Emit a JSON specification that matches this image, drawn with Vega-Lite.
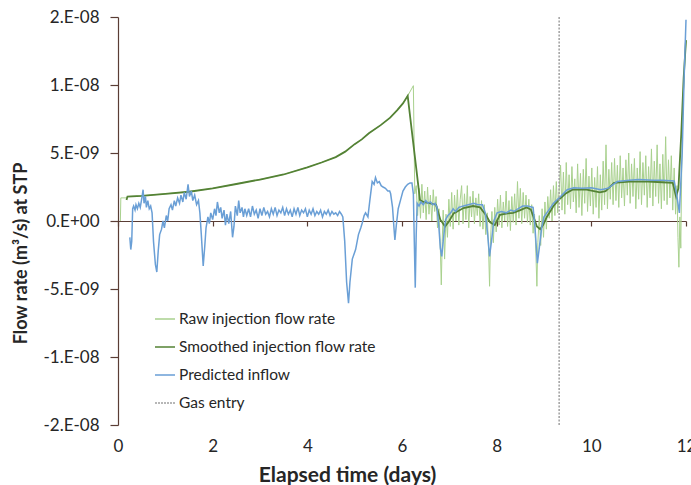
{
  "$schema": "https://vega.github.io/schema/vega-lite/v6.json",
  "width": 568,
  "height": 408,
  "autosize": {"type": "none"},
  "padding": {"left": 118, "top": 17, "right": 5, "bottom": 60},
  "background": "white",
  "config": {"view": {"stroke": null}, "font": "Lato", "axis": {"grid": false}},
  "resolve": {"axis": {"x": "independent", "y": "independent"}},
  "layer": [
    {
      "data": {"values": [
        {"t":0.05,"v":0},{"t":0.06,"v":1.7e-9},{"t":0.18,"v":1.7e-9},{"t":0.2,"v":1.8e-9},{"t":0.5,"v":1.85e-9},{"t":1.0,"v":2.0e-9},{"t":1.5,"v":2.15e-9},{"t":2.0,"v":2.4e-9},{"t":2.5,"v":2.72e-9},{"t":3.0,"v":3.05e-9},{"t":3.5,"v":3.42e-9},{"t":4.0,"v":3.95e-9},{"t":4.3,"v":4.3e-9},{"t":4.6,"v":4.7e-9},{"t":4.8,"v":5.1e-9},{"t":5.0,"v":5.65e-9},{"t":5.15,"v":6.0e-9},{"t":5.3,"v":6.45e-9},{"t":5.55,"v":7.05e-9},{"t":5.75,"v":7.6e-9},{"t":5.9,"v":8.15e-9},{"t":6.02,"v":8.65e-9},{"t":6.12,"v":9.2e-9},{"t":6.24,"v":9.95e-9},{"t":6.27,"v":2.0e-9},
        {"t":6.30,"v":2.6e-9},{"t":6.33,"v":0.4e-9},{"t":6.36,"v":2.4e-9},{"t":6.39,"v":0.2e-9},{"t":6.42,"v":2.7e-9},{"t":6.45,"v":0.6e-9},{"t":6.48,"v":2.2e-9},{"t":6.51,"v":0.1e-9},{"t":6.54,"v":2.5e-9},{"t":6.57,"v":0.5e-9},{"t":6.60,"v":1.9e-9},{"t":6.63,"v":0.0},{"t":6.66,"v":2.3e-9},{"t":6.69,"v":0.7e-9},{"t":6.72,"v":1.8e-9},{"t":6.75,"v":-0.5e-9},{"t":6.78,"v":0.9e-9},{"t":6.81,"v":-2.0e-9},{"t":6.83,"v":-4.7e-9},{"t":6.85,"v":-1.5e-9},{"t":6.87,"v":0.8e-9},{"t":6.90,"v":-2.8e-9},{"t":6.93,"v":0.5e-9},{"t":6.96,"v":-1.2e-9},{"t":6.99,"v":1.6e-9},
        {"t":7.02,"v":-0.4e-9},{"t":7.05,"v":2.1e-9},{"t":7.08,"v":-0.6e-9},{"t":7.11,"v":1.9e-9},{"t":7.14,"v":0.0},{"t":7.17,"v":2.3e-9},{"t":7.20,"v":-0.3e-9},{"t":7.23,"v":1.6e-9},{"t":7.26,"v":2.6e-9},{"t":7.29,"v":-0.2e-9},{"t":7.32,"v":2.0e-9},{"t":7.35,"v":0.1e-9},{"t":7.38,"v":2.6e-9},{"t":7.41,"v":-0.5e-9},{"t":7.44,"v":1.8e-9},{"t":7.47,"v":0.3e-9},{"t":7.50,"v":2.2e-9},{"t":7.53,"v":-0.2e-9},{"t":7.56,"v":1.7e-9},{"t":7.59,"v":0.4e-9},{"t":7.62,"v":2.0e-9},{"t":7.65,"v":-0.4e-9},{"t":7.68,"v":1.5e-9},{"t":7.71,"v":-0.6e-9},{"t":7.74,"v":1.2e-9},{"t":7.77,"v":-1.0e-9},{"t":7.80,"v":0.6e-9},{"t":7.83,"v":-2.2e-9},{"t":7.85,"v":-4.8e-9},{"t":7.87,"v":-1.4e-9},{"t":7.90,"v":0.7e-9},{"t":7.93,"v":-1.6e-9},{"t":7.96,"v":1.0e-9},{"t":7.99,"v":-0.8e-9},
        {"t":8.02,"v":1.6e-9},{"t":8.05,"v":-0.3e-9},{"t":8.08,"v":1.9e-9},{"t":8.11,"v":-0.5e-9},{"t":8.14,"v":1.4e-9},{"t":8.17,"v":0.0},{"t":8.20,"v":2.2e-9},{"t":8.23,"v":-0.4e-9},{"t":8.26,"v":1.5e-9},{"t":8.29,"v":-0.7e-9},{"t":8.32,"v":1.8e-9},{"t":8.35,"v":-0.1e-9},{"t":8.38,"v":2.0e-9},{"t":8.41,"v":-0.3e-9},{"t":8.44,"v":2.9e-9},{"t":8.47,"v":0.2e-9},{"t":8.50,"v":2.4e-9},{"t":8.53,"v":-0.2e-9},{"t":8.56,"v":2.1e-9},{"t":8.59,"v":0.2e-9},{"t":8.62,"v":1.9e-9},{"t":8.65,"v":-0.1e-9},{"t":8.68,"v":1.6e-9},{"t":8.71,"v":-0.3e-9},{"t":8.74,"v":1.2e-9},{"t":8.77,"v":-0.9e-9},{"t":8.80,"v":0.5e-9},{"t":8.83,"v":-2.5e-9},{"t":8.85,"v":-4.8e-9},{"t":8.87,"v":-1.6e-9},{"t":8.90,"v":0.4e-9},{"t":8.93,"v":-1.8e-9},{"t":8.96,"v":0.9e-9},{"t":8.99,"v":-1.2e-9},
        {"t":9.02,"v":1.4e-9},{"t":9.05,"v":-0.6e-9},{"t":9.08,"v":1.8e-9},{"t":9.11,"v":0.2e-9},{"t":9.14,"v":2.3e-9},{"t":9.17,"v":0.0},{"t":9.20,"v":2.6e-9},{"t":9.23,"v":0.4e-9},{"t":9.26,"v":2.9e-9},{"t":9.29,"v":0.6e-9},{"t":9.32,"v":2.3e-9},{"t":9.35,"v":4.1e-9},{"t":9.38,"v":0.8e-9},{"t":9.41,"v":3.6e-9},{"t":9.44,"v":0.5e-9},{"t":9.47,"v":4.3e-9},{"t":9.50,"v":1.2e-9},{"t":9.53,"v":3.4e-9},{"t":9.56,"v":0.9e-9},{"t":9.59,"v":4.0e-9},{"t":9.62,"v":1.4e-9},{"t":9.65,"v":3.1e-9},{"t":9.68,"v":0.6e-9},{"t":9.71,"v":4.2e-9},{"t":9.74,"v":1.0e-9},{"t":9.77,"v":3.5e-9},{"t":9.80,"v":0.4e-9},{"t":9.83,"v":3.8e-9},{"t":9.86,"v":1.3e-9},{"t":9.89,"v":4.6e-9},{"t":9.92,"v":0.7e-9},{"t":9.95,"v":3.3e-9},{"t":9.98,"v":1.1e-9},
        {"t":10.01,"v":3.9e-9},{"t":10.04,"v":0.5e-9},{"t":10.07,"v":3.2e-9},{"t":10.10,"v":1.0e-9},{"t":10.13,"v":4.0e-9},{"t":10.16,"v":0.2e-9},{"t":10.19,"v":3.4e-9},{"t":10.22,"v":0.8e-9},{"t":10.25,"v":4.4e-9},{"t":10.28,"v":1.2e-9},{"t":10.31,"v":5.6e-9},{"t":10.34,"v":0.9e-9},{"t":10.37,"v":3.8e-9},{"t":10.40,"v":1.6e-9},{"t":10.43,"v":4.3e-9},{"t":10.46,"v":1.2e-9},{"t":10.49,"v":4.6e-9},{"t":10.52,"v":1.5e-9},{"t":10.55,"v":4.1e-9},{"t":10.58,"v":1.0e-9},{"t":10.61,"v":4.8e-9},{"t":10.64,"v":1.7e-9},{"t":10.67,"v":3.9e-9},{"t":10.70,"v":1.1e-9},{"t":10.73,"v":4.5e-9},{"t":10.76,"v":1.9e-9},{"t":10.79,"v":5.0e-9},{"t":10.82,"v":1.3e-9},{"t":10.85,"v":4.2e-9},{"t":10.88,"v":1.8e-9},{"t":10.91,"v":4.6e-9},{"t":10.94,"v":0.9e-9},{"t":10.97,"v":3.9e-9},
        {"t":11.00,"v":1.6e-9},{"t":11.03,"v":5.1e-9},{"t":11.06,"v":1.2e-9},{"t":11.09,"v":4.3e-9},{"t":11.12,"v":1.9e-9},{"t":11.15,"v":4.8e-9},{"t":11.18,"v":1.0e-9},{"t":11.21,"v":4.0e-9},{"t":11.24,"v":1.7e-9},{"t":11.27,"v":5.3e-9},{"t":11.30,"v":1.1e-9},{"t":11.33,"v":4.4e-9},{"t":11.36,"v":1.8e-9},{"t":11.39,"v":5.6e-9},{"t":11.42,"v":1.3e-9},{"t":11.45,"v":4.2e-9},{"t":11.48,"v":0.9e-9},{"t":11.51,"v":4.9e-9},{"t":11.54,"v":1.5e-9},{"t":11.57,"v":6.2e-9},{"t":11.60,"v":1.2e-9},{"t":11.63,"v":4.5e-9},{"t":11.66,"v":1.7e-9},{"t":11.69,"v":4.8e-9},{"t":11.72,"v":0.8e-9},{"t":11.75,"v":3.9e-9},{"t":11.78,"v":0.5e-9},{"t":11.81,"v":2.6e-9},{"t":11.83,"v":-1.2e-9},{"t":11.85,"v":-3.4e-9},{"t":11.87,"v":0.3e-9},{"t":11.89,"v":-2.0e-9},{"t":11.91,"v":4.0e-9},{"t":11.94,"v":9.0e-9},{"t":11.97,"v":11.5e-9},{"t":12.0,"v":13.3e-9}
      ]},
      "mark": {"type": "line", "strokeWidth": 1},
      "encoding": {
        "x": {"field": "t", "type": "quantitative", "scale": {"domain": [0, 12], "nice": false},
          "axis": {"orient": "bottom", "values": [0,2,4,6,8,10,12], "domain": false, "ticks": false, "labelPadding": 13, "labelFontSize": 17, "labelColor": "#262626", "labelFont": "Lato", "labelFlush": false,
            "title": "Elapsed time (days)", "titleFont": "Lato", "titleFontSize": 21, "titleFontWeight": "bold", "titleColor": "#262626", "titleX": 229, "titleY": 50, "titleBaseline": "middle", "titleAlign": "center"}},
        "y": {"field": "v", "type": "quantitative", "scale": {"domain": [-1.5e-8, 1.5e-8], "nice": false, "zero": false},
          "axis": {"orient": "left", "values": [-1.5e-8,-1e-8,-5e-9,0,5e-9,1e-8,1.5e-8],
            "labelExpr": "round(datum.value*1e9)==15?'2.E-08':round(datum.value*1e9)==10?'1.E-08':round(datum.value*1e9)==5?'5.E-09':round(datum.value*1e9)==0?'0.E+00':round(datum.value*1e9)==-5?'-5.E-09':round(datum.value*1e9)==-10?'-1.E-08':'-2.E-08'",
            "domainColor": "#5a3d35", "domainWidth": 1.2, "tickColor": "#5a3d35", "tickSize": 8, "tickWidth": 1.2, "labelPadding": 11, "labelFontSize": 17, "labelColor": "#262626", "labelFont": "Lato",
            "title": "Flow rate (m³/s) at STP", "titleFont": "Lato", "titleFontSize": 18, "titleFontWeight": "bold", "titleColor": "#262626", "titleX": -97, "titleY": 236, "titleBaseline": "middle", "titleAlign": "center", "titleAngle": 270}},
        "color": {"datum": "Raw injection flow rate",
          "scale": {"domain": ["Raw injection flow rate", "Smoothed injection flow rate", "Predicted inflow", "Gas entry"], "range": ["#a9d18e", "#548235", "#6a9fd6", "#a0a0a0"]},
          "legend": {"title": null, "orient": "none", "legendX": 36, "legendY": 291, "padding": 0, "symbolType": "stroke", "symbolSize": 400, "symbolStrokeWidth": 1.5, "labelOffset": 3, "labelFontSize": 15.5, "labelFont": "Lato", "labelColor": "#262626", "labelLimit": 400, "rowPadding": 8,
            "encode": {"symbols": {"update": {"strokeDash": {"signal": "datum.value === 'Gas entry' ? [2,1] : [1,0]"}}}}}}
      }
    },
    {
      "data": {"values": [
        {"t":0.18,"v":1.55e-9},{"t":0.2,"v":1.8e-9},{"t":0.5,"v":1.85e-9},{"t":1.0,"v":2.0e-9},{"t":1.5,"v":2.15e-9},{"t":2.0,"v":2.4e-9},{"t":2.5,"v":2.72e-9},{"t":3.0,"v":3.05e-9},{"t":3.5,"v":3.42e-9},{"t":4.0,"v":3.95e-9},{"t":4.3,"v":4.3e-9},{"t":4.6,"v":4.7e-9},{"t":4.8,"v":5.1e-9},{"t":5.0,"v":5.65e-9},{"t":5.15,"v":6.0e-9},{"t":5.3,"v":6.45e-9},{"t":5.55,"v":7.05e-9},{"t":5.75,"v":7.6e-9},{"t":5.9,"v":8.15e-9},{"t":6.02,"v":8.65e-9},{"t":6.12,"v":9.2e-9},
        {"t":6.38,"v":1.55e-9},{"t":6.45,"v":1.4e-9},{"t":6.6,"v":1.3e-9},{"t":6.72,"v":1.2e-9},{"t":6.81,"v":0.1e-9},{"t":6.91,"v":-0.4e-9},{"t":6.98,"v":-0.1e-9},{"t":7.09,"v":0.55e-9},{"t":7.3,"v":0.95e-9},{"t":7.5,"v":1.1e-9},{"t":7.65,"v":1.0e-9},{"t":7.78,"v":0.4e-9},{"t":7.86,"v":-0.1e-9},{"t":7.96,"v":-0.3e-9},{"t":8.07,"v":0.45e-9},{"t":8.2,"v":0.55e-9},{"t":8.35,"v":0.6e-9},{"t":8.5,"v":0.8e-9},{"t":8.63,"v":1.0e-9},{"t":8.72,"v":0.85e-9},{"t":8.8,"v":0.1e-9},{"t":8.85,"v":-0.4e-9},{"t":8.92,"v":-0.6e-9},{"t":8.98,"v":-0.3e-9},{"t":9.06,"v":0.3e-9},{"t":9.2,"v":1.1e-9},{"t":9.31,"v":1.55e-9},{"t":9.45,"v":2.0e-9},{"t":9.6,"v":2.3e-9},{"t":9.9,"v":2.3e-9},{"t":10.18,"v":2.1e-9},{"t":10.3,"v":2.2e-9},{"t":10.48,"v":2.8e-9},{"t":10.8,"v":2.9e-9},{"t":11.2,"v":2.9e-9},{"t":11.5,"v":2.85e-9},{"t":11.72,"v":2.8e-9},{"t":11.79,"v":1.8e-9},{"t":11.84,"v":2.4e-9},{"t":11.9,"v":6.4e-9},{"t":11.95,"v":10.5e-9},{"t":12.0,"v":13.3e-9}
      ]},
      "mark": {"type": "line", "strokeWidth": 1.8},
      "encoding": {
        "x": {"field": "t", "type": "quantitative", "scale": {"domain": [0, 12], "nice": false},
          "axis": {"orient": "bottom", "offset": -204, "values": [0,2,4,6,8,10,12], "labels": false, "title": null, "domainColor": "#5a3d35", "domainWidth": 1.2, "tickColor": "#5a3d35", "tickWidth": 1.2, "tickSize": 5}},
        "y": {"field": "v", "type": "quantitative", "axis": null},
        "color": {"datum": "Smoothed injection flow rate"}
      }
    },
    {
      "data": {"values": [
        {"t":0.25,"v":-1.2e-9},{"t":0.27,"v":-2.1e-9},{"t":0.29,"v":-1.5e-9},{"t":0.31,"v":0.9e-9},{"t":0.33,"v":1.1e-9},{"t":0.36,"v":0.8e-9},{"t":0.38,"v":1.2e-9},{"t":0.41,"v":0.9e-9},{"t":0.44,"v":1.3e-9},{"t":0.47,"v":1.0e-9},{"t":0.5,"v":1.6e-9},{"t":0.53,"v":2.3e-9},{"t":0.55,"v":1.3e-9},{"t":0.58,"v":1.8e-9},{"t":0.6,"v":1.0e-9},{"t":0.63,"v":1.5e-9},{"t":0.66,"v":0.9e-9},{"t":0.69,"v":1.1e-9},{"t":0.72,"v":0.6e-9},{"t":0.75,"v":-1.5e-9},{"t":0.79,"v":-3.2e-9},{"t":0.82,"v":-3.75e-9},{"t":0.85,"v":-2.2e-9},{"t":0.88,"v":-1.0e-9},{"t":0.92,"v":-0.6e-9},{"t":0.95,"v":0.0},{"t":0.98,"v":-0.5e-9},
        {"t":1.02,"v":0.4e-9},{"t":1.05,"v":0.0},{"t":1.08,"v":0.9e-9},{"t":1.12,"v":1.2e-9},{"t":1.15,"v":0.8e-9},{"t":1.19,"v":1.5e-9},{"t":1.22,"v":1.1e-9},{"t":1.26,"v":1.7e-9},{"t":1.3,"v":1.3e-9},{"t":1.33,"v":1.9e-9},{"t":1.37,"v":1.4e-9},{"t":1.4,"v":2.1e-9},{"t":1.44,"v":1.6e-9},{"t":1.48,"v":2.7e-9},{"t":1.51,"v":1.8e-9},{"t":1.55,"v":2.2e-9},{"t":1.58,"v":1.5e-9},{"t":1.62,"v":1.9e-9},{"t":1.66,"v":1.2e-9},{"t":1.7,"v":1.5e-9},{"t":1.73,"v":0.6e-9},{"t":1.76,"v":-1.0e-9},{"t":1.8,"v":-3.3e-9},{"t":1.83,"v":-2.0e-9},{"t":1.86,"v":-0.5e-9},{"t":1.9,"v":0.3e-9},{"t":1.93,"v":-0.2e-9},{"t":1.96,"v":0.6e-9},
        {"t":2.0,"v":0.1e-9},{"t":2.04,"v":0.9e-9},{"t":2.07,"v":0.4e-9},{"t":2.1,"v":1.4e-9},{"t":2.14,"v":0.6e-9},{"t":2.17,"v":1.0e-9},{"t":2.2,"v":0.2e-9},{"t":2.24,"v":0.8e-9},{"t":2.27,"v":-0.3e-9},{"t":2.3,"v":0.5e-9},{"t":2.34,"v":-0.2e-9},{"t":2.38,"v":0.7e-9},{"t":2.42,"v":-1.2e-9},{"t":2.45,"v":-0.4e-9},{"t":2.48,"v":1.1e-9},{"t":2.52,"v":0.4e-9},{"t":2.55,"v":1.5e-9},{"t":2.58,"v":0.6e-9},{"t":2.62,"v":1.0e-9},{"t":2.65,"v":0.3e-9},{"t":2.68,"v":0.9e-9},
        {"t":2.72,"v":0.4e-9},{"t":2.76,"v":0.9e-9},{"t":2.8,"v":0.3e-9},{"t":2.84,"v":1.1e-9},{"t":2.88,"v":0.5e-9},{"t":2.92,"v":0.8e-9},{"t":2.96,"v":0.2e-9},{"t":3.0,"v":0.9e-9},{"t":3.04,"v":0.4e-9},{"t":3.08,"v":1.0e-9},{"t":3.12,"v":0.5e-9},{"t":3.16,"v":0.7e-9},{"t":3.2,"v":0.3e-9},{"t":3.24,"v":0.9e-9},{"t":3.28,"v":0.5e-9},{"t":3.32,"v":1.0e-9},{"t":3.36,"v":0.4e-9},{"t":3.4,"v":0.8e-9},{"t":3.44,"v":0.6e-9},{"t":3.48,"v":1.0e-9},{"t":3.52,"v":0.4e-9},{"t":3.56,"v":0.9e-9},{"t":3.6,"v":0.5e-9},{"t":3.64,"v":0.8e-9},{"t":3.68,"v":0.3e-9},{"t":3.72,"v":0.9e-9},{"t":3.76,"v":0.5e-9},{"t":3.8,"v":1.0e-9},{"t":3.84,"v":0.4e-9},{"t":3.88,"v":0.8e-9},{"t":3.92,"v":0.6e-9},{"t":3.96,"v":0.9e-9},
        {"t":4.0,"v":0.3e-9},{"t":4.04,"v":0.8e-9},{"t":4.08,"v":0.5e-9},{"t":4.12,"v":0.9e-9},{"t":4.16,"v":0.4e-9},{"t":4.2,"v":0.7e-9},{"t":4.24,"v":0.5e-9},{"t":4.28,"v":0.8e-9},{"t":4.32,"v":0.3e-9},{"t":4.36,"v":0.7e-9},{"t":4.4,"v":0.5e-9},{"t":4.44,"v":0.8e-9},{"t":4.48,"v":0.4e-9},{"t":4.52,"v":0.7e-9},{"t":4.56,"v":0.5e-9},{"t":4.6,"v":0.6e-9},{"t":4.64,"v":0.4e-9},{"t":4.68,"v":0.7e-9},{"t":4.72,"v":0.5e-9},{"t":4.75,"v":0.3e-9},{"t":4.79,"v":-1.5e-9},{"t":4.83,"v":-4.5e-9},{"t":4.87,"v":-6.05e-9},{"t":4.9,"v":-4.5e-9},{"t":4.95,"v":-2.8e-9},
        {"t":5.02,"v":-2.1e-9},{"t":5.08,"v":-1.0e-9},{"t":5.13,"v":-0.5e-9},{"t":5.16,"v":-0.15e-9},{"t":5.2,"v":0.4e-9},{"t":5.23,"v":0.6e-9},{"t":5.28,"v":0.3e-9},{"t":5.32,"v":1.5e-9},{"t":5.37,"v":2.9e-9},{"t":5.41,"v":2.7e-9},{"t":5.44,"v":3.2e-9},{"t":5.48,"v":2.8e-9},{"t":5.52,"v":2.9e-9},{"t":5.56,"v":2.6e-9},{"t":5.6,"v":2.5e-9},{"t":5.65,"v":2.4e-9},{"t":5.7,"v":2.2e-9},{"t":5.74,"v":2.2e-9},{"t":5.76,"v":2.0e-9},{"t":5.8,"v":1.0e-9},{"t":5.83,"v":-0.5e-9},{"t":5.85,"v":-1.4e-9},{"t":5.88,"v":-0.3e-9},{"t":5.92,"v":0.9e-9},{"t":5.97,"v":1.55e-9},
        {"t":6.02,"v":2.2e-9},{"t":6.07,"v":2.5e-9},{"t":6.12,"v":2.7e-9},{"t":6.17,"v":2.8e-9},{"t":6.21,"v":2.8e-9},{"t":6.24,"v":2.0e-9},{"t":6.26,"v":-1.5e-9},{"t":6.28,"v":-4.9e-9},{"t":6.3,"v":-1.0e-9},{"t":6.32,"v":1.3e-9},{"t":6.36,"v":1.1e-9},{"t":6.4,"v":1.4e-9},{"t":6.45,"v":1.2e-9},{"t":6.5,"v":1.5e-9},{"t":6.55,"v":1.3e-9},{"t":6.6,"v":1.4e-9},{"t":6.65,"v":1.2e-9},{"t":6.7,"v":1.3e-9},{"t":6.74,"v":1.0e-9},{"t":6.78,"v":-0.5e-9},{"t":6.81,"v":-2.0e-9},{"t":6.84,"v":-2.6e-9},{"t":6.87,"v":-1.5e-9},{"t":6.92,"v":0.1e-9},{"t":6.97,"v":0.4e-9},
        {"t":7.03,"v":0.6e-9},{"t":7.08,"v":0.9e-9},{"t":7.13,"v":0.7e-9},{"t":7.2,"v":1.0e-9},{"t":7.3,"v":1.1e-9},{"t":7.4,"v":1.2e-9},{"t":7.52,"v":1.3e-9},{"t":7.6,"v":1.2e-9},{"t":7.7,"v":1.2e-9},{"t":7.76,"v":0.6e-9},{"t":7.81,"v":-1.0e-9},{"t":7.85,"v":-2.6e-9},{"t":7.89,"v":-1.5e-9},{"t":7.94,"v":0.0},
        {"t":8.01,"v":0.6e-9},{"t":8.1,"v":0.7e-9},{"t":8.2,"v":0.6e-9},{"t":8.3,"v":0.8e-9},{"t":8.37,"v":0.7e-9},{"t":8.45,"v":0.9e-9},{"t":8.55,"v":1.1e-9},{"t":8.65,"v":1.1e-9},{"t":8.77,"v":1.0e-9},{"t":8.81,"v":-0.5e-9},{"t":8.86,"v":-3.1e-9},{"t":8.9,"v":-2.0e-9},{"t":8.95,"v":-0.5e-9},
        {"t":9.0,"v":0.3e-9},{"t":9.1,"v":0.8e-9},{"t":9.2,"v":1.3e-9},{"t":9.35,"v":1.8e-9},{"t":9.49,"v":2.3e-9},{"t":9.63,"v":2.45e-9},{"t":9.8,"v":2.4e-9},{"t":10.0,"v":2.45e-9},{"t":10.2,"v":2.3e-9},{"t":10.35,"v":2.4e-9},{"t":10.55,"v":2.9e-9},{"t":10.8,"v":3.0e-9},{"t":11.0,"v":3.05e-9},{"t":11.3,"v":3.0e-9},{"t":11.5,"v":3.0e-9},{"t":11.75,"v":2.95e-9},{"t":11.8,"v":2.0e-9},{"t":11.86,"v":0.6e-9},{"t":11.92,"v":5.0e-9},{"t":11.96,"v":10.5e-9},{"t":12.0,"v":14.8e-9}
      ]},
      "mark": {"type": "line", "strokeWidth": 1.5},
      "encoding": {
        "x": {"field": "t", "type": "quantitative", "axis": null},
        "y": {"field": "v", "type": "quantitative", "axis": null},
        "color": {"datum": "Predicted inflow"}
      }
    },
    {
      "data": {"values": [{"t": 9.32}]},
      "mark": {"type": "rule", "strokeDash": [2, 1.5], "strokeWidth": 1.5},
      "encoding": {
        "x": {"field": "t", "type": "quantitative", "axis": null},
        "color": {"datum": "Gas entry"}
      }
    }
  ]
}
